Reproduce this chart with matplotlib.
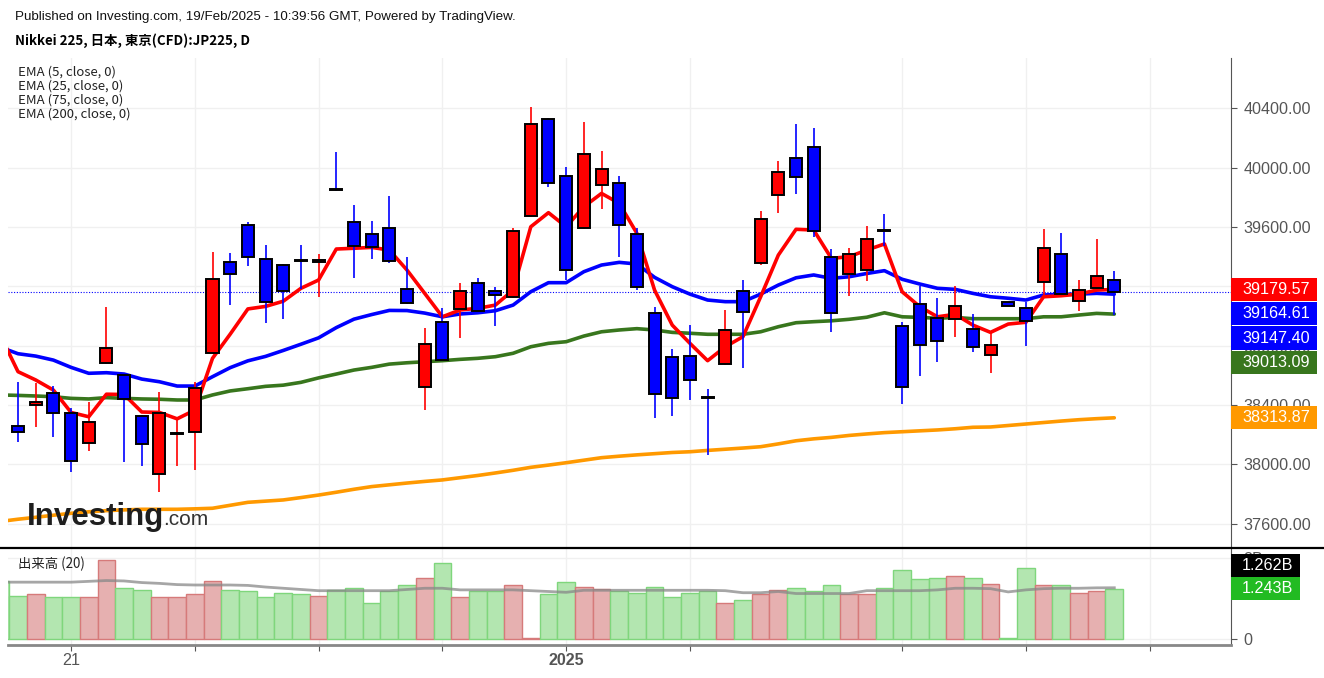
import numpy as np
import matplotlib.pyplot as plt
from matplotlib.patches import Rectangle
from matplotlib.lines import Line2D

# daily candles (index 0..62)
opens = [38258, 38398, 38479, 38348, 38146, 38681, 38602, 38328, 37935, 38205,
         38216, 38753, 39362, 39614, 39382, 39342, 39380, 39362, 39860, 39632,
         39553, 39595, 39180, 38522, 38958, 39047, 39221, 39169, 39130, 39674,
         40330, 39946, 39593, 39885, 39897, 39553, 39018, 38724, 38733, 38452,
         38675, 39169, 39360, 39814, 40067, 40138, 39400, 39281, 39308, 39581,
         38935, 39079, 38985, 38978, 38915, 38735, 39097, 39056, 39227, 39420,
         39099, 39191, 39241]
highs = [38553, 38546, 38528, 38378, 38422, 39059, 38612, 38335, 38486, 38299,
         38553, 39434, 39423, 39636, 39477, 39350, 39477, 39416, 40104, 39749,
         39639, 39809, 39396, 38919, 39052, 39221, 39254, 39198, 39595, 40411,
         40335, 40003, 40306, 40113, 39944, 39595, 39059, 38776, 38939, 38508,
         39041, 39243, 39708, 40045, 40295, 40266, 39452, 39457, 39607, 39686,
         38962, 39204, 39120, 39202, 39012, 38884, 39097, 39097, 39587, 39558,
         39243, 39519, 39304]
lows = [38153, 38254, 38182, 37950, 38092, 38675, 38018, 37991, 37812, 37991,
        37962, 38745, 39074, 39337, 38951, 38982, 39182, 39126, 39843, 39254,
        39386, 39360, 39080, 38366, 38695, 38850, 39030, 38933, 39125, 39668,
        39872, 39243, 39590, 39720, 39400, 39175, 38315, 38326, 38434, 38063,
        38670, 38652, 39344, 39693, 39823, 39535, 38892, 39135, 39234, 39472,
        38405, 38598, 38688, 38861, 38760, 38618, 39068, 38800, 39130, 39145,
        39034, 39185, 39007]
closes = [38218, 38420, 38348, 38025, 38288, 38782, 38439, 38137, 38348, 38212,
          38513, 39250, 39281, 39400, 39097, 39167, 39372, 39380, 39853, 39472,
          39463, 39369, 39086, 38813, 38701, 39169, 39036, 39142, 39573, 40293,
          39895, 39308, 40090, 39989, 39612, 39198, 38472, 38449, 38571, 38446,
          38906, 39027, 39654, 39969, 39935, 39573, 39018, 39420, 39521, 39575,
          38519, 38803, 38834, 39066, 38793, 38803, 39068, 38968, 39461, 39151,
          39173, 39272, 39164.61]

# moving averages (index -1..62)
ema5 = [38870, 38625, 38569, 38501, 38350, 38321, 38473, 38471, 38353, 38350,
        38307, 38366, 38715, 38878, 39048, 39065, 39100, 39187, 39243, 39452,
        39457, 39463, 39445, 39310, 39153, 38995, 39041, 39052, 39074, 39175,
        39602, 39697, 39602, 39737, 39827, 39760, 39558, 39175, 38939, 38816,
        38699, 38793, 38861, 39130, 39411, 39585, 39580, 39389, 39400, 39445,
        39486, 39164, 39063, 38995, 39012, 38939, 38890, 38946, 38958, 39130,
        39137, 39148, 39175, 39179.57]
ema25 = [38790, 38746, 38730, 38703, 38654, 38614, 38618, 38609, 38575, 38557,
         38528, 38528, 38591, 38652, 38698, 38728, 38768, 38810, 38853, 38922,
         38979, 39010, 39038, 39037, 39020, 38995, 39014, 39022, 39036, 39074,
         39164, 39225, 39225, 39299, 39344, 39362, 39351, 39261, 39198, 39148,
         39108, 39097, 39097, 39148, 39209, 39258, 39277, 39254, 39265, 39287,
         39306, 39248, 39216, 39187, 39180, 39153, 39130, 39120, 39108, 39142,
         39146, 39148, 39153, 39147.40]
ema75 = [38468, 38465, 38461, 38456, 38445, 38441, 38450, 38445, 38441, 38439,
         38434, 38434, 38468, 38495, 38510, 38526, 38534, 38553, 38583, 38609,
         38636, 38654, 38676, 38685, 38692, 38699, 38708, 38715, 38726, 38749,
         38793, 38816, 38827, 38865, 38894, 38906, 38915, 38906, 38890, 38884,
         38877, 38877, 38877, 38894, 38928, 38955, 38962, 38968, 38978, 38992,
         39022, 38995, 38991, 38985, 38991, 38982, 38982, 38982, 38982, 38995,
         38995, 39007, 39018, 39013.09]
ema200 = [37615, 37630, 37643, 37657, 37670, 37680, 37688, 37693, 37697, 37697,
          37697, 37700, 37704, 37724, 37744, 37752, 37760, 37776, 37793, 37812,
          37832, 37850, 37862, 37874, 37885, 37895, 37910, 37925, 37942, 37960,
          37980, 37995, 38011, 38028, 38045, 38055, 38064, 38072, 38080, 38085,
          38094, 38102, 38110, 38119, 38138, 38159, 38172, 38182, 38195, 38205,
          38214, 38220, 38226, 38232, 38240, 38250, 38252, 38262, 38272, 38282,
          38292, 38301, 38308, 38313.87]

# volume in billions (index -1..62); colour of each bar: 'r' red, 'g' green
volume = [1.44, 1.06, 1.10, 1.03, 1.03, 1.03, 1.95, 1.25, 1.21, 1.03,
          1.03, 1.10, 1.43, 1.21, 1.17, 1.03, 1.13, 1.10, 1.06, 1.21,
          1.25, 0.88, 1.17, 1.32, 1.50, 1.87, 1.03, 1.17, 1.17, 1.32,
          0.02, 1.10, 1.40, 1.28, 1.22, 1.17, 1.13, 1.28, 1.03, 1.13,
          1.17, 0.88, 0.95, 1.10, 1.21, 1.25, 1.17, 1.32, 1.10, 1.10,
          1.25, 1.69, 1.47, 1.50, 1.54, 1.50, 1.36, 0.02, 1.76, 1.32,
          1.32, 1.13, 1.17, 1.243]
vol_color = list("ddudduuddu" "uuudddddud" "ddddududdu" "udduuddddd"
                 "duduuddduu" "ddddududdu" "duud".replace("u", "r").replace("d", "g"))
vol_ma = [1.40, 1.40, 1.40, 1.40, 1.40, 1.42, 1.44, 1.43, 1.39, 1.37,
          1.34, 1.33, 1.33, 1.33, 1.32, 1.28, 1.25, 1.22, 1.19, 1.19,
          1.19, 1.19, 1.19, 1.22, 1.25, 1.25, 1.21, 1.21, 1.21, 1.21,
          1.19, 1.17, 1.15, 1.20, 1.20, 1.20, 1.20, 1.20, 1.20, 1.20,
          1.20, 1.19, 1.14, 1.14, 1.17, 1.12, 1.12, 1.12, 1.12, 1.19,
          1.19, 1.19, 1.19, 1.21, 1.25, 1.25, 1.24, 1.16, 1.21, 1.24,
          1.25, 1.25, 1.26, 1.262]

date_ticks = [3, 10, 17, 24, 31, 38, 50, 57, 64]
date_labels = ["21", "", "", "", "2025", "", "", "", ""]
price_ticks = [37600, 38000, 38400, 38800, 39200, 39600, 40000, 40400]

plt.rcParams['font.family'] = ['Liberation Sans', 'DejaVu Sans']
CJK = ["Noto Sans CJK JP", "DejaVu Sans"]

W, H = 1324, 678
fig = plt.figure(figsize=(W / 100, H / 100), dpi=100)


def fx(px):
    return px / W


def fy(py):
    return 1 - py / H


ax = fig.add_axes([fx(8), fy(548), fx(1231) - fx(8), fy(58) - fy(548)])
axv = fig.add_axes([fx(8), fy(645), fx(1231) - fx(8), fy(549) - fy(645)])

UP, DOWN = "#ff0000", "#0000ff"
idx = np.arange(len(opens))
lidx = np.arange(-1, len(opens))

# EMA lines
ax.plot(lidx, ema200, color="#ff9900", lw=2.6, zorder=2, solid_capstyle="round")
ax.plot(lidx, ema75, color="#38761d", lw=2.6, zorder=2, solid_capstyle="round")
ax.plot(lidx, ema25, color="#0000ff", lw=2.6, zorder=2, solid_capstyle="round")
ax.plot(lidx, ema5, color="#ff0000", lw=2.6, zorder=2, solid_capstyle="round")

# candles
for i in idx:
    o, h, l, c = opens[i], highs[i], lows[i], closes[i]
    col = UP if c >= o else DOWN
    ax.vlines(i, l, h, color=col, lw=1.2, zorder=3)
    bottom = min(o, c)
    height = max(abs(c - o), 2)
    ax.add_patch(Rectangle((i - 0.34, bottom), 0.68, height, facecolor=col,
                           edgecolor="black", lw=1.4, zorder=4))

ax.axhline(closes[-1], color="#0000ff", ls=(0, (1, 1.5)), lw=0.8, zorder=1)

ax.set_xlim(-0.566, 68.6)
ax.set_ylim(37436, 40740)
ax.yaxis.tick_right()
ax.set_yticks(price_ticks)
ax.set_yticklabels([f"{v:.2f}" for v in price_ticks])
ax.set_xticks(date_ticks)
ax.tick_params(axis="x", length=0, labelbottom=False)
ax.tick_params(axis="y", labelsize=11.6, labelcolor="#555555", color="#555555",
               length=4, pad=5)
ax.grid(True, color="#f0f0f0", lw=1)
ax.set_axisbelow(True)
for s in ["top", "left", "bottom"]:
    ax.spines[s].set_visible(False)
ax.spines["right"].set_color("#555555")

# volume
vcols = ["#e6b0b0" if d == "r" else "#b3e6b0" for d in vol_color]
vedges = ["#d67a7a" if d == "r" else "#7fd67c" for d in vol_color]
axv.bar(lidx, volume, width=1.0, color=vcols, edgecolor=vedges, lw=1, zorder=2)
axv.plot(lidx, vol_ma, color="#888888", lw=2, alpha=0.75, zorder=3)
axv.set_xlim(-0.566, 68.6)
axv.set_ylim(-0.148, 2.217)
axv.yaxis.tick_right()
axv.set_yticks([0, 2])
axv.set_yticklabels(["0", "2B"])
axv.set_xticks(date_ticks)
axv.set_xticklabels(date_labels)
axv.tick_params(axis="y", labelsize=11.6, labelcolor="#555555", color="#555555",
                length=4, pad=5)
axv.tick_params(axis="x", labelsize=11.6, labelcolor="#555555", color="#555555",
                length=4, pad=2)
for t in axv.get_xticklabels():
    if t.get_text() == "2025":
        t.set_fontweight("bold")
axv.grid(True, color="#f0f0f0", lw=1)
axv.set_axisbelow(True)
for s in ["top", "left"]:
    axv.spines[s].set_visible(False)
axv.spines["right"].set_color("#555555")
axv.spines["bottom"].set_color("#888888")
axv.spines["bottom"].set_linewidth(2)

# separator between panels
fig.add_artist(Line2D([0, 1], [fy(547.5), fy(547.5)], color="black", lw=1.6,
                      transform=fig.transFigure))


def value_box(py, text, bg, x0=1231, x1=1317, h=23.3):
    fig.add_artist(Rectangle((fx(x0), fy(py + h / 2)), fx(x1) - fx(x0), h / H,
                             facecolor=bg, edgecolor="none",
                             transform=fig.transFigure, zorder=5))
    fig.text(fx(x0 + 11), fy(py), text, color="white", fontsize=11.6,
             ha="left", va="center", zorder=6)


# last-value labels on the price axis, stacked so they do not overlap
labels = [(ema5[-1], "#ff0000"), (closes[-1], "#0000ff"), (ema25[-1], "#0000ff"),
          (ema75[-1], "#38761d"), (ema200[-1], "#ff9900")]
labels.sort(key=lambda t: -t[0])
prev = -100
for v, bg in labels:
    py = H - ax.transData.transform((0, v))[1]
    py = max(py, prev + 24.3)
    prev = py
    value_box(py, f"{v:.2f}", bg)

vpy = H - axv.transData.transform((0, volume[-1]))[1]
value_box(vpy, f"{volume[-1]:.3f}B", "#22bb22", x1=1300)
value_box(vpy - 23.3, f"{vol_ma[-1]:.3f}B", "black", x1=1300)

# header
fig.text(fx(15), fy(17), "Published on Investing.com, 19/Feb/2025 - 10:39:56 GMT, Powered by TradingView.",
         fontsize=9.6, color="#111111", va="center")
fig.text(fx(15), fy(41), "Nikkei 225, 日本, 東京(CFD):JP225, D", fontsize=9.6,
         fontweight="bold", va="center", family=CJK)
for k, n in enumerate([5, 25, 75, 200]):
    fig.text(fx(18), fy(72 + 14 * k), f"EMA ({n}, close, 0)", fontsize=9.5,
             va="center", color="#222222", family=CJK)
fig.text(fx(18), fy(564), "出来高 (20)", fontsize=9.6, va="center", color="#222222",
         family=CJK)

# watermark
fig.text(fx(27), fy(525), "Investing", fontsize=22.5, fontweight="bold",
         color="#1e1e1e", va="baseline", zorder=5)
fig.text(fx(163), fy(525), ".com", fontsize=15, color="#333333", va="baseline", zorder=5)

fig.savefig("out.png", dpi=100)
